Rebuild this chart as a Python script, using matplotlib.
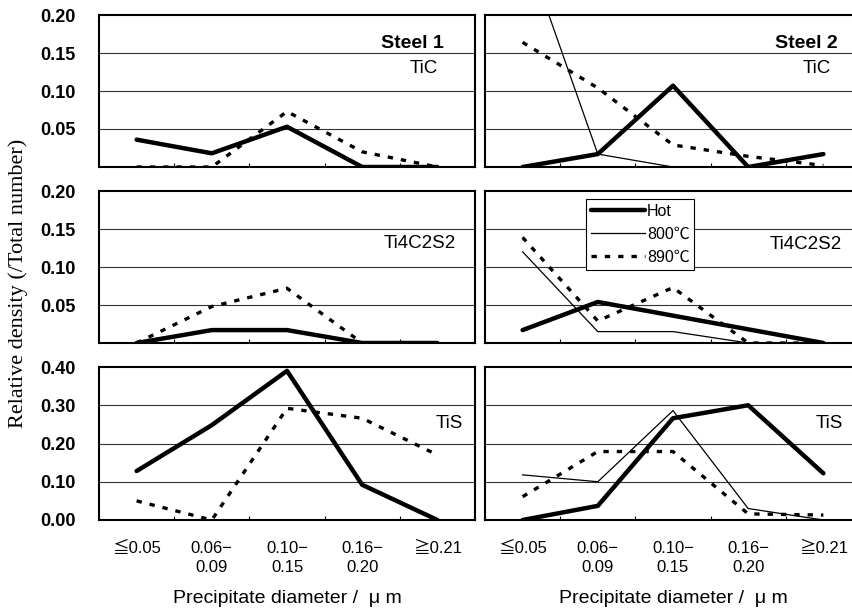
import matplotlib
matplotlib.use("Agg")
import matplotlib.pyplot as plt
import numpy as np

# ---------------- data ----------------
categories = ['≦0.05', '0.06−\n0.09', '0.10−\n0.15', '0.16−\n0.20', '≧0.21']
series_names = ['Hot', '800℃', '890℃']

# Steel 1
s1_tic_hot = [0.036, 0.018, 0.053, 0.0, 0.0]
s1_tic_890 = [0.0, 0.0, 0.073, 0.020, 0.0]
s1_ti4_hot = [0.0, 0.017, 0.017, 0.0, 0.0]
s1_ti4_890 = [0.0, 0.048, 0.072, 0.0, 0.0]
s1_tis_hot = [0.128, 0.248, 0.390, 0.092, 0.0]
s1_tis_890 = [0.050, 0.0, 0.292, 0.266, 0.170]

# Steel 2
s2_tic_hot = [0.0, 0.017, 0.107, 0.0, 0.017]
s2_tic_800 = [0.298, 0.017, 0.0, 0.0, 0.0]
s2_tic_890 = [0.164, 0.104, 0.029, 0.014, 0.002]
s2_ti4_hot = [0.017, 0.054, 0.036, 0.018, 0.0]
s2_ti4_800 = [0.120, 0.015, 0.015, 0.0, 0.0]
s2_ti4_890 = [0.139, 0.029, 0.073, 0.0, 0.0]
s2_tis_hot = [0.0, 0.037, 0.266, 0.300, 0.122]
s2_tis_800 = [0.118, 0.100, 0.286, 0.030, 0.0]
s2_tis_890 = [0.061, 0.179, 0.179, 0.016, 0.013]

row_labels = ['TiC', 'Ti4C2S2', 'TiS']
steel_labels = ['Steel 1', 'Steel 2']
yticks_small = [0.05, 0.10, 0.15, 0.20]
yticks_large = [0.00, 0.10, 0.20, 0.30, 0.40]

# ---------------- styles ----------------
SANS = ['Liberation Sans', 'Noto Sans CJK JP', 'DejaVu Sans']
styles = {
    'Hot': dict(color='black', lw=3.2, ls='-', solid_capstyle='round'),
    '800℃': dict(color='black', lw=0.9, ls='-'),
    '890℃': dict(color='black', lw=2.4, ls=(0, (1.6, 2.4)), dash_capstyle='butt'),
}

fig = plt.figure(figsize=(8.52, 6.10), dpi=100)

W = 376 / 852
lefts = [99 / 852, 485 / 852]
rows = [(1 - 167 / 610, 152 / 610), (1 - 343 / 610, 152 / 610), (1 - 520 / 610, 153 / 610)]

data = {
    (0, 0): {'Hot': s1_tic_hot, '890℃': s1_tic_890},
    (1, 0): {'Hot': s1_ti4_hot, '890℃': s1_ti4_890},
    (2, 0): {'Hot': s1_tis_hot, '890℃': s1_tis_890},
    (0, 1): {'Hot': s2_tic_hot, '800℃': s2_tic_800, '890℃': s2_tic_890},
    (1, 1): {'Hot': s2_ti4_hot, '800℃': s2_ti4_800, '890℃': s2_ti4_890},
    (2, 1): {'Hot': s2_tis_hot, '800℃': s2_tis_800, '890℃': s2_tis_890},
}

label_pos = {
    (0, 0): (0.902, 0.645), (1, 0): (0.950, 0.655), (2, 0): (0.968, 0.63),
    (0, 1): (0.920, 0.645), (1, 1): (0.950, 0.645), (2, 1): (0.952, 0.63),
}
steel_pos = {0: (0.918, 0.815), 1: (0.938, 0.815)}

x = np.arange(len(categories))
axes = {}
for r in range(3):
    for c in range(2):
        b, h = rows[r]
        ax = fig.add_axes([lefts[c], b, W, h])
        axes[(r, c)] = ax
        ax.set_xlim(-0.5, 4.5)
        if r < 2:
            ax.set_ylim(0, 0.20)
            ax.set_yticks(yticks_small)
            grid_vals = yticks_small[:-1]
        else:
            ax.set_ylim(0, 0.40)
            ax.set_yticks(yticks_large)
            grid_vals = yticks_large[1:-1]
        for gv in grid_vals:
            ax.axhline(gv, color='#333333', lw=0.8, zorder=0.5)
        for name in series_names:
            if name in data[(r, c)]:
                ax.plot(x, data[(r, c)][name], zorder=3, **styles[name])
        for sp in ax.spines.values():
            sp.set_linewidth(1.5)
            sp.set_color('black')
        ax.tick_params(axis='y', length=0, pad=17)
        ax.set_xticks(x)
        ax.set_xticks(x[:-1] + 0.5, minor=True)
        ax.tick_params(axis='x', which='major', length=0, pad=15)
        ax.tick_params(axis='x', which='minor', direction='in', length=3, width=0.8)
        if c == 0:
            ax.set_yticklabels([f'{v:.2f}' for v in ax.get_yticks()],
                               fontsize=13, fontweight='bold', family=SANS)
        else:
            ax.set_yticklabels([])
        if r == 2:
            ax.set_xticklabels(categories, fontsize=12, family=SANS, linespacing=1.35,
                               va='top')
            ax.set_xlabel('Precipitate diameter /  μ m', fontsize=14, family=SANS,
                          labelpad=11)
        else:
            ax.set_xticklabels([])
        lx, ly = label_pos[(r, c)]
        ax.text(lx, ly, row_labels[r], transform=ax.transAxes, ha='right', va='center',
                fontsize=13.5, family=SANS)
        if r == 0:
            sx, sy = steel_pos[c]
            ax.text(sx, sy, steel_labels[c], transform=ax.transAxes, ha='right',
                    va='center', fontsize=14, fontweight='bold', family=SANS)

# legend in middle-right
axl = axes[(1, 1)]
handles = [axl.plot([], [], **styles[n])[0] for n in series_names]
leg = axl.legend(handles, series_names, loc='upper left', bbox_to_anchor=(0.269, 0.947),
                 borderaxespad=0, frameon=True, fancybox=False, edgecolor='black',
                 framealpha=1, handlelength=3.4, handletextpad=0.1, labelspacing=0.5,
                 borderpad=0.3, prop={'family': SANS, 'size': 11.5})
leg.get_frame().set_linewidth(0.8)

fig.text(0.021, 0.535, 'Relative density (/Total number)', rotation=90,
         ha='center', va='center', fontsize=16,
         family=['Liberation Serif', 'DejaVu Serif'])

fig.savefig('out.png', dpi=100)
